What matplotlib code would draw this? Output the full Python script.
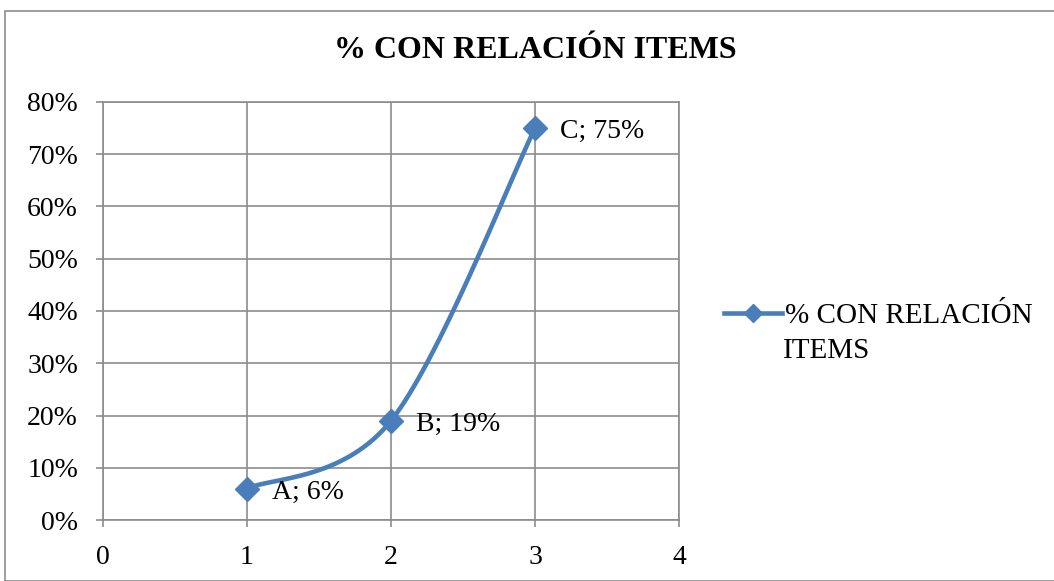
import numpy as np
import matplotlib
matplotlib.use("Agg")
import matplotlib.pyplot as plt
from matplotlib.patches import Rectangle
from matplotlib.lines import Line2D
from matplotlib.ticker import FuncFormatter, MultipleLocator

labels = ["A", "B", "C"]
x_vals = [1, 2, 3]
y_vals = [6, 19, 75]
series_line1 = "% CON RELACIÓN"
series_line2 = "ITEMS"
title = "% CON RELACIÓN ITEMS"

plt.rcParams['font.family'] = ['Liberation Serif', 'DejaVu Serif']

def excel_smooth(xs, ys, n=60):
    pts = np.column_stack([xs, ys]).astype(float)
    out = []
    for i in range(len(pts) - 1):
        p0 = pts[i - 1] if i > 0 else pts[i]
        p1 = pts[i]
        p2 = pts[i + 1]
        p3 = pts[i + 2] if i + 2 < len(pts) else pts[i + 1]
        c1 = p1 + (p2 - p0) / 6.0
        c2 = p2 - (p3 - p1) / 6.0
        t = np.linspace(0, 1, n)[:, None]
        seg = ((1 - t) ** 3) * p1 + 3 * ((1 - t) ** 2) * t * c1 + 3 * (1 - t) * t ** 2 * c2 + t ** 3 * p2
        out.append(seg if i == 0 else seg[1:])
    seg = np.vstack(out)
    return seg[:, 0], seg[:, 1]

color = "#4A7EBB"
grid_c = "#8C8C8C"
lw = 3.3
ms = 12

fig = plt.figure(figsize=(10.54, 5.81), dpi=100)
fig.patches.append(Rectangle((5 / 1054, 0), 2, (581 - 11) / 581, transform=fig.transFigure,
                             fill=False, edgecolor="#8C8C8C", lw=1.2))
ax = fig.add_axes([103 / 1054, 61 / 581, 576 / 1054, 418 / 581])

sx, sy = excel_smooth(x_vals, y_vals)
ax.plot(sx, sy, color=color, lw=lw, solid_capstyle='round', zorder=3)
ax.plot(x_vals, y_vals, linestyle='none', marker='D', markersize=ms, color=color, zorder=4)

for lb, xv, yv in zip(labels, x_vals, y_vals):
    ax.annotate(f"{lb}; {yv}%", (xv, yv), xytext=(18, -2.5), textcoords='offset points',
                va='center', ha='left', fontsize=20, color='black', zorder=5)

ax.set_xlim(0, 4)
ax.set_ylim(0, 80)
ax.xaxis.set_major_locator(MultipleLocator(1))
ax.yaxis.set_major_locator(MultipleLocator(10))
ax.yaxis.set_major_formatter(FuncFormatter(lambda v, p: f"{int(round(v))}%"))
ax.grid(True, color=grid_c, lw=1.2)
ax.set_axisbelow(True)
for s in ax.spines.values():
    s.set_color(grid_c)
    s.set_linewidth(1.2)
ax.tick_params(axis='both', labelsize=20, color=grid_c, length=5, width=1.2, direction='out')
ax.tick_params(axis='x', pad=13)
ax.tick_params(axis='y', pad=13)

fig.text(535 / 1054, 1 - 51 / 581, title, ha='center', va='center', fontsize=23, fontweight='bold')

handle = Line2D([], [], color=color, lw=lw, marker='D', markersize=9)
leg = fig.legend([handle], [series_line1], loc='center left',
                 bbox_to_anchor=(724 / 1054, 1 - 316 / 581), frameon=False,
                 fontsize=21, handlelength=2.0, handletextpad=0.1, borderaxespad=0, borderpad=0)
fig.text(783 / 1054, 1 - 351 / 581, series_line2, ha='left', va='center', fontsize=21)

fig.savefig("out.png", dpi=100)
